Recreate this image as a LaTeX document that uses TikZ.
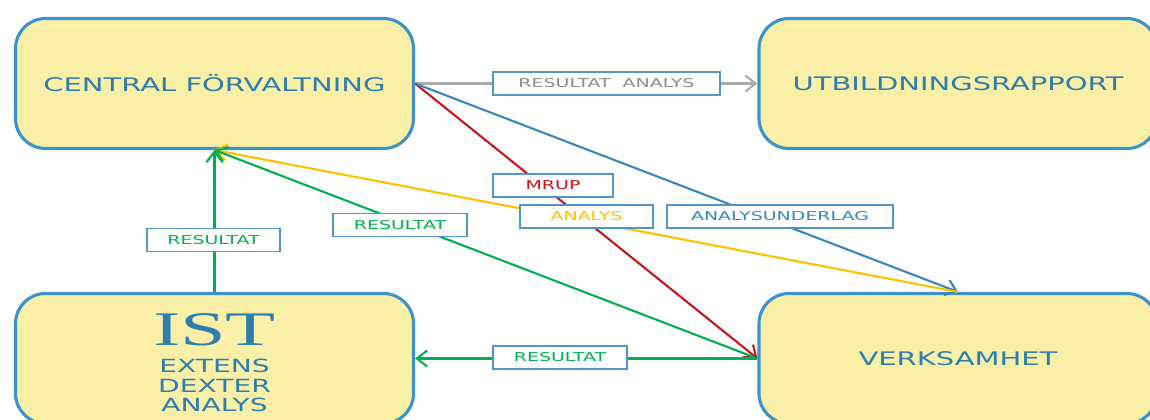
\documentclass[tikz,border=0pt]{standalone}
\usepackage{fontspec}
\usetikzlibrary{arrows.meta}

\newfontfamily\boxfont[FakeStretch=1.55]{DejaVu Sans}
\newfontfamily\istfont[FakeStretch=1.7]{Liberation Serif}

\definecolor{boxfill}{RGB}{249,239,166}
\definecolor{boxline}{RGB}{60,146,202}
\definecolor{boxtext}{RGB}{46,125,175}
\definecolor{tagline}{RGB}{80,150,200}
\definecolor{flowgray}{RGB}{170,170,170}
\definecolor{textgray}{RGB}{140,140,140}
\definecolor{flowred}{RGB}{200,20,30}
\definecolor{flowblue}{RGB}{55,135,190}
\definecolor{flowyellow}{RGB}{255,192,0}
\definecolor{flowgreen}{RGB}{0,176,80}

\begin{document}
\begin{tikzpicture}[
    unit/.style={draw=boxline, line width=2.2pt, fill=boxfill, rounded corners=0.75cm,
        minimum width=9.95cm, minimum height=3.25cm, text=boxtext, align=center,
        font={\boxfont\fontsize{13.3}{13.9}\selectfont}},
    tag/.style={draw=tagline, line width=0.8pt, fill=white, minimum height=0.575cm,
        inner sep=0pt, font={\boxfont\fontsize{8.7}{10}\selectfont}},
    flow/.style={line width=1.5pt, -{Straight Barb[length=2.6mm,width=4mm]}}
]
            \useasboundingbox (0, 0) rectangle (28.75, -10.475);
            \clip (0, 0) rectangle (28.75, -10.475);

            % the four units
            \node [unit] (cf) at (5.3625, -2.0875) {CENTRAL FÖRVALTNING};
            \node [unit] (ut) at (23.95, -2.0875) {UTBILDNINGSRAPPORT};
            \node [unit, font={\boxfont\fontsize{12.9}{13.9}\selectfont}] (ist) at (5.3625, -8.9625)
                {\rule{0pt}{1.02cm}{\istfont\fontsize{34.3}{36}\selectfont IST}\\[5.3pt]EXTENS\\DEXTER\\ANALYS};
            \node [unit] (ve) at (23.95, -8.9625) {VERKSAMHET};

            % flows
            \draw [flow, flowgray] (cf.east) to (ut.west);
            \draw [flow, flowred] (cf.east) to (ve.west);
            \draw [flow, flowblue] (cf.east) to (ve.north);
            \draw [flow, flowyellow] (ve.north) to (cf.south);
            \draw [flow, flowgreen] (ist.north) to (cf.south);
            \draw [flow, flowgreen] (ve.west) to (cf.south);
            \draw [flow, flowgreen] (ve.west) to (ist.east);

            % tags on the flows
            \node [tag, minimum width=5.675cm, text=textgray] (tagra) at (15.1625, -2.0875) {RESULTAT\ \ ANALYS};
            \node [tag, minimum width=3cm, text=flowred] (tagmrup) at (13.825, -4.6375) {MRUP};
            \node [tag, minimum width=3.325cm, text=flowyellow] (taganalys) at (14.6625, -5.4125) {ANALYS};
            \node [tag, minimum width=5.65cm, text=flowblue] (tagunder) at (19.5, -5.4125) {ANALYSUNDERLAG};
            \node [tag, minimum width=3.325cm, text=flowgreen] (tagres1) at (5.3375, -6.0) {RESULTAT};
            \node [tag, minimum width=3.35cm, text=flowgreen] (tagres2) at (10.0, -5.625) {RESULTAT};
            \node [tag, minimum width=3.35cm, text=flowgreen] (tagres3) at (14.0, -8.9375) {RESULTAT};
        \end{tikzpicture}
\end{document}
